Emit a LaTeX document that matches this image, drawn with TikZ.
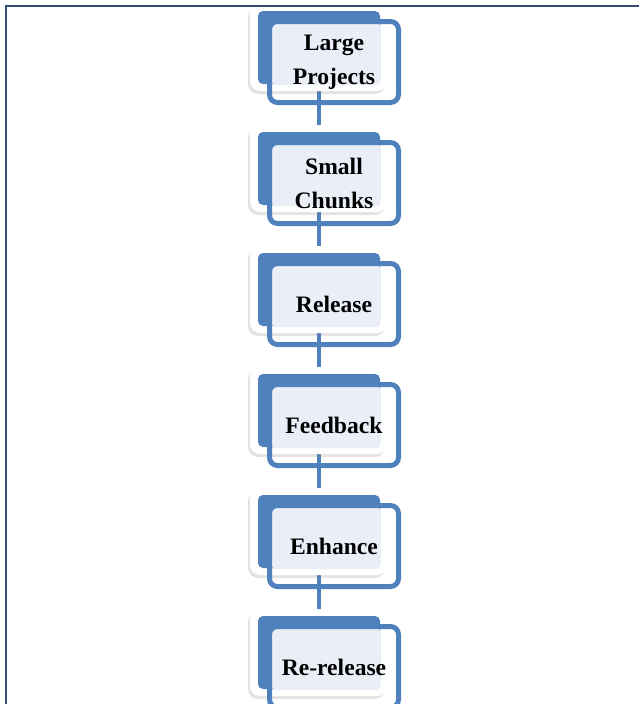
\documentclass[tikz,border=0pt]{standalone}
\usepackage{fontspec}
\setmainfont{Liberation Serif}
\usepackage{tikz}
\usetikzlibrary{shadows, backgrounds}
\definecolor{accentblue}{RGB}{79, 129, 189}
\definecolor{paleblue}{RGB}{234, 239, 247}
\definecolor{framedark}{RGB}{52, 78, 112}

\begin{document}
\begin{tikzpicture}[x=1pt, y=-1pt,
    plate/.style={fill=white, rounded corners=10pt, minimum width=137pt, minimum height=87pt, inner sep=0pt,
        drop shadow={shadow xshift=-2pt, shadow yshift=-3pt, opacity=0.22}},
    accent/.style={fill=accentblue, rounded corners=5pt, minimum width=122pt, minimum height=73pt, inner sep=0pt},
    textpad/.style={fill=paleblue, rounded corners=3pt, minimum width=108pt, minimum height=62pt, inner sep=0pt},
    stepframe/.style={draw=accentblue, line width=5pt, rounded corners=8pt, minimum width=129pt, minimum height=81pt,
        inner sep=0pt, align=center, font=\fontsize{23.6}{34}\selectfont\bfseries},
    link/.style={draw=accentblue, line width=4pt}]
    \useasboundingbox (0,0) rectangle (638,704);

    \foreach \name/\t/\words in {large/11/{Large\\Projects}, small/132/{Small\\Chunks}, release/253/Release,
        feedback/374/Feedback, enhance/495/Enhance, rerelease/616/Re-release} {
        \node[plate] (\name-p) at (318.5, \t+36.5) {};
        \node[accent] (\name-a) at (319, \t+36.5) {};
        \node[textpad] (\name-b) at (326, \t+43) {};
        \node[stepframe] (\name) at (334, \t+51) {\words};
    }

    \begin{scope}[on background layer]
        \draw[link] (large-p) -- (small-p);
        \draw[link] (small-p) -- (release-p);
        \draw[link] (release-p) -- (feedback-p);
        \draw[link] (feedback-p) -- (enhance-p);
        \draw[link] (enhance-p) -- (rerelease-p);
    \end{scope}

    % outer frame, only top and left edges show
    \draw[framedark, line width=2.2pt] (640,6) -- (6,6) -- (6,706);
\end{tikzpicture}
\end{document}
